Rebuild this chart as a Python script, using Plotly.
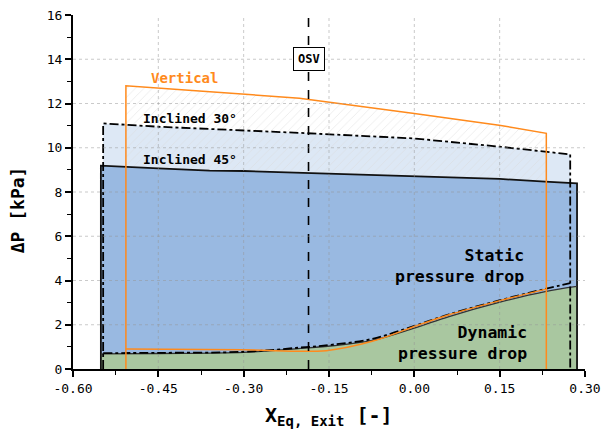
import plotly.graph_objects as go

# ---------------- data ----------------
# Inclined 45 deg
i45_x_top = [-0.551, -0.45, -0.36, -0.30, -0.20, 0.00, 0.15, 0.23, 0.286]
i45_top   = [9.19, 9.07, 8.97, 8.95, 8.87, 8.74, 8.59, 8.47, 8.39]
i45_x_dyn = [-0.551, -0.45, -0.30, -0.20, -0.144, -0.074, 0.00, 0.061, 0.149, 0.23, 0.286]
i45_dyn   = [0.68, 0.70, 0.75, 0.93, 1.05, 1.29, 1.85, 2.37, 3.01, 3.50, 3.73]

# Inclined 30 deg
i30_x_top = [-0.547, -0.45, -0.30, -0.20, 0.00, 0.149, 0.274]
i30_top   = [11.10, 10.95, 10.80, 10.67, 10.42, 10.05, 9.70]
i30_x_dyn = [-0.547, -0.45, -0.30, -0.20, -0.144, -0.074, 0.00, 0.061, 0.149, 0.23, 0.274]
i30_dyn   = [0.72, 0.73, 0.78, 0.97, 1.10, 1.36, 1.95, 2.47, 3.10, 3.62, 3.88]

# Vertical
v_x_top = [-0.507, -0.378, -0.202, 0.00, 0.149, 0.232]
v_top   = [12.80, 12.57, 12.24, 11.55, 11.02, 10.65]
v_x_dyn = [-0.507, -0.30, -0.155, -0.074, 0.00, 0.061, 0.149, 0.232]
v_dyn   = [0.90, 0.87, 0.83, 1.25, 1.92, 2.45, 3.08, 3.61]

osv_x = -0.186
osv_y = 14.0

x_ticks = [-0.60, -0.45, -0.30, -0.15, 0.00, 0.15, 0.30]
x_ticktext = ["-0.60", "-0.45", "-0.30", "-0.15", "0.00", "0.15", "0.30"]
y_ticks = [0, 2, 4, 6, 8, 10, 12, 14, 16]
y_ticktext = ["0", "2", "4", "6", "8", "10", "12", "14", "16"]

# ---------------- styles ----------------
FONT = "DejaVu Sans Mono"
ORANGE = "#ff8a1c"
LIGHT_BLUE = "#dde8f5"
DARK_BLUE = "#99b9e1"
GREEN = "#a9c7a0"


def closed(xs, ys):
    """polygon from the x-axis up the left edge, along the curve, down the right edge"""
    return [xs[0]] + list(xs) + [xs[-1]], [0] + list(ys) + [0]


fig = go.Figure()

# Inclined 30 static region (light blue)
px, py = closed(i30_x_top, i30_top)
fig.add_trace(go.Scatter(x=px, y=py, fill="toself", fillcolor=LIGHT_BLUE,
                         mode="lines", line=dict(width=0), hoverinfo="skip"))
# Vertical region (hatched)
px, py = closed(v_x_top, v_top)
fig.add_trace(go.Scatter(x=px, y=py, fill="toself", fillcolor="rgba(0,0,0,0)",
                         fillpattern=dict(shape="/", fgcolor="#d9d9d9", size=6, solidity=0.15),
                         mode="lines", line=dict(width=0), hoverinfo="skip"))
# Inclined 45 static region (dark blue)
px, py = closed(i45_x_top, i45_top)
fig.add_trace(go.Scatter(x=px, y=py, fill="toself", fillcolor=DARK_BLUE,
                         mode="lines", line=dict(width=0), hoverinfo="skip"))
# Inclined 45 dynamic region (green)
px, py = closed(i45_x_dyn, i45_dyn)
fig.add_trace(go.Scatter(x=px, y=py, fill="toself", fillcolor=GREEN,
                         mode="lines", line=dict(width=0), hoverinfo="skip"))

# outlines
px, py = closed(i45_x_top, i45_top)
fig.add_trace(go.Scatter(x=px, y=py, mode="lines", line=dict(color="#111111", width=1.8)))
fig.add_trace(go.Scatter(x=i45_x_dyn, y=i45_dyn, mode="lines", line=dict(color="#333333", width=1.3, shape="spline")))

px, py = closed(i30_x_top, i30_top)
fig.add_trace(go.Scatter(x=px, y=py, mode="lines", line=dict(color="black", width=1.8, dash="dashdot")))
fig.add_trace(go.Scatter(x=i30_x_dyn, y=i30_dyn, mode="lines", line=dict(color="black", width=1.8, dash="dashdot", shape="spline")))

px, py = closed(v_x_top, v_top)
fig.add_trace(go.Scatter(x=px, y=py, mode="lines", line=dict(color=ORANGE, width=1.5)))
fig.add_trace(go.Scatter(x=v_x_dyn, y=v_dyn, mode="lines", line=dict(color=ORANGE, width=1.5, shape="spline")))

# OSV line
fig.add_trace(go.Scatter(x=[osv_x, osv_x], y=[y_ticks[0], y_ticks[-1]], mode="lines",
                         line=dict(color="black", width=1.6, dash="dash")))

# grid drawn above fills (dotted)
GRID = dict(color="rgba(150,150,150,0.5)", width=1, dash="dot")
shapes = []
for xv in x_ticks[1:-1]:
    shapes.append(dict(type="line", xref="x", yref="paper", x0=xv, x1=xv, y0=0, y1=1,
                       line=GRID, layer="above"))
for yv in y_ticks[1:-1]:
    shapes.append(dict(type="line", xref="paper", yref="y", x0=0, x1=1, y0=yv, y1=yv,
                       line=GRID, layer="above"))

annotations = [
    dict(x=osv_x, y=osv_y, text="<b>OSV</b>", showarrow=False, font=dict(family=FONT, size=12, color="black"),
         bgcolor="white", bordercolor="black", borderwidth=1, borderpad=4),
    dict(x=-0.404, y=13.15, text="<b>Vertical</b>", showarrow=False, font=dict(family=FONT, size=14, color=ORANGE)),
    dict(x=-0.48, y=11.33, text="<b>Inclined 30°</b>", showarrow=False, xanchor="left",
         font=dict(family=FONT, size=13, color="black")),
    dict(x=-0.48, y=9.49, text="<b>Inclined 45°</b>", showarrow=False, xanchor="left",
         font=dict(family=FONT, size=13, color="black")),
    dict(x=0.197, y=4.66, text="<b>Static</b><br><b>pressure drop</b>", showarrow=False, xanchor="right",
         align="right", font=dict(family=FONT, size=16.5, color="black")),
    dict(x=0.201, y=1.17, text="<b>Dynamic</b><br><b>pressure drop</b>", showarrow=False, xanchor="right",
         align="right", font=dict(family=FONT, size=16.5, color="black")),
    dict(xref="paper", yref="paper", x=-0.109, y=0.449, xanchor="center", yanchor="middle",
         text="<b>ΔP [kPa]</b>", textangle=-90,
         showarrow=False, font=dict(family=FONT, size=18, color="black")),
    dict(xref="paper", yref="paper", x=0.5, y=-0.176, yanchor="bottom", xanchor="center",
         text="<b>X<sub>Eq, Exit</sub> [-]</b>", showarrow=False,
         font=dict(family=FONT, size=20, color="black")),
]

axis_common = dict(showline=True, linecolor="black", linewidth=2, mirror=False, ticks="outside",
                   ticklen=6, tickwidth=1.5, tickcolor="black", showgrid=False, zeroline=False,
                   automargin=False, tickfont=dict(family=FONT, size=13, color="black"))

xminor = dict(dtick=0.075, ticks="outside", ticklen=3.5, tickwidth=1.2, tickcolor="black", showgrid=False)
yminor = dict(dtick=1, ticks="outside", ticklen=4, tickwidth=1.2, tickcolor="black", showgrid=False)

fig.update_layout(
    width=603, height=432, margin=dict(l=73, r=18, t=15, b=63, autoexpand=False),
    paper_bgcolor="white", plot_bgcolor="white", showlegend=False,
    xaxis=dict(range=[x_ticks[0], x_ticks[-1]], tickvals=x_ticks, ticktext=x_ticktext,
               minor=xminor, **axis_common),
    yaxis=dict(range=[y_ticks[0], y_ticks[-1]], tickvals=y_ticks, ticktext=y_ticktext,
               minor=yminor, **axis_common),
    xaxis2=dict(overlaying="x", side="top", range=[x_ticks[0], x_ticks[-1]], tickvals=x_ticks,
                showticklabels=False, minor=xminor, **axis_common),
    yaxis2=dict(overlaying="y", side="right", range=[y_ticks[0], y_ticks[-1]], tickvals=y_ticks,
                showticklabels=False, minor=yminor, **axis_common),
    shapes=shapes, annotations=annotations,
)

fig.write_html("out.html")
